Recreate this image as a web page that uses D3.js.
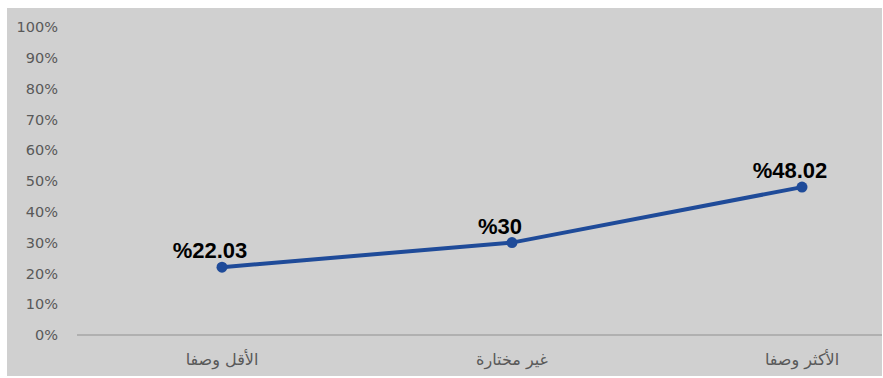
<!DOCTYPE html>
<html>
<head>
<meta charset="utf-8">
<script src="https://cdn.jsdelivr.net/npm/d3@7"></script>
<style>
  body { margin: 0; background: #fff; }
  svg { display: block; }
</style>
</head>
<body>
<svg id="canvas" width="883" height="378"></svg>
<script>
// chart data
let categories = ['الأقل وصفا', 'غير مختارة', 'الأكثر وصفا']
let values = [22.03, 30, 48.02]
let valueLabels = ['%22.03', '%30', '%48.02']
let yTicks = [0, 10, 20, 30, 40, 50, 60, 70, 80, 90, 100]

let canvas = d3.select('#canvas')

// grey panel behind everything
canvas.append('rect')
    .attr('x', 7).attr('y', 8)
    .attr('width', 875).attr('height', 368)
    .attr('fill', '#d0d0d0')

let x = d3.scalePoint().domain(categories).range([222, 802]).padding(0)
let y = d3.scaleLinear().domain([0, 100]).range([335, 27])

// y axis labels only (no line)
let yAxis = canvas.append('g')
    .attr('transform', 'translate(60,0)')
    .call(d3.axisLeft(y).tickValues(yTicks).tickSize(0).tickPadding(2).tickFormat(d => d + '%'))
yAxis.select('.domain').remove()
yAxis.selectAll('text')
    .attr('fill', '#595959')
    .style('font-family', 'DejaVu Sans, sans-serif')
    .style('font-size', '14.5px')

// baseline
canvas.append('line')
    .attr('x1', 77).attr('x2', 882)
    .attr('y1', y(0)).attr('y2', y(0))
    .attr('stroke', '#a6a6a6').attr('stroke-width', 1.5)

// category labels
canvas.selectAll('.cat')
    .data(categories)
    .enter()
    .append('text')
    .attr('class', 'cat')
    .attr('x', d => x(d))
    .attr('y', 365)
    .attr('text-anchor', 'middle')
    .attr('fill', '#595959')
    .style('font-family', 'DejaVu Sans, sans-serif')
    .style('font-size', '16px')
    .text(d => d)

// the line
let line = d3.line()
    .x((d, i) => x(categories[i]))
    .y(d => y(d))

canvas.append('path')
    .datum(values)
    .attr('d', line)
    .attr('fill', 'none')
    .attr('stroke', '#1f4b99')
    .attr('stroke-width', 4)

canvas.selectAll('.dot')
    .data(values)
    .enter()
    .append('circle')
    .attr('class', 'dot')
    .attr('cx', (d, i) => x(categories[i]))
    .attr('cy', d => y(d))
    .attr('r', 5.5)
    .attr('fill', '#1f4b99')

// value labels
canvas.selectAll('.lbl')
    .data(values)
    .enter()
    .append('text')
    .attr('class', 'lbl')
    .attr('x', (d, i) => x(categories[i]) - 12)
    .attr('y', d => y(d) - 9)
    .attr('text-anchor', 'middle')
    .attr('fill', '#000')
    .style('font-family', 'Liberation Sans, Arial, sans-serif')
    .style('font-weight', 'bold')
    .style('font-size', '22px')
    .text((d, i) => valueLabels[i])
</script>
</body>
</html>
